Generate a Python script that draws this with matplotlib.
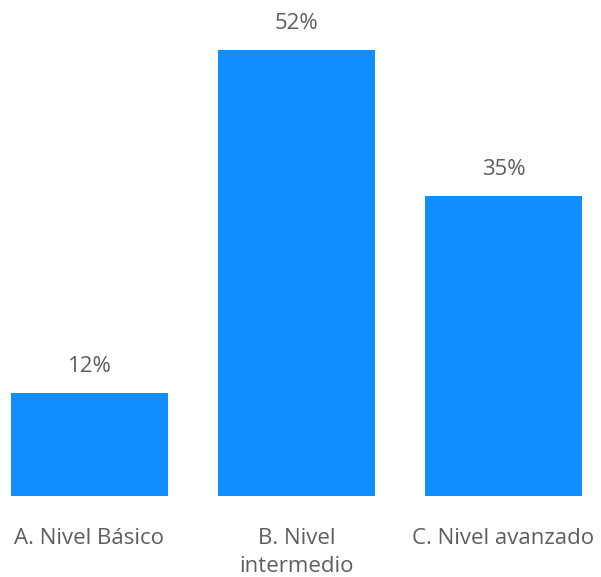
import matplotlib
matplotlib.use("Agg")
import matplotlib.pyplot as plt

categories = ["A. Nivel Básico", "B. Nivel\nintermedio", "C. Nivel avanzado"]
values = [12, 52, 35]
labels = ["12%", "52%", "35%"]

plt.rcParams['font.family'] = ['Open Sans', 'DejaVu Sans']
text_color = "#605E5C"

fig = plt.figure(figsize=(6.01, 5.77), dpi=100)
ax = fig.add_axes([0, 81.3 / 577, 1, 495.7 / 577])

x = list(range(len(values)))
ax.bar(x, values, width=0.758, color="#118DFF")

for i in range(len(values)):
    ax.annotate(labels[i], (x[i], values[i]), xytext=(0, 19), textcoords="offset points",
                ha="center", va="center", fontsize=16, color=text_color)

ax.set_xlim(-89.5 / 207, (601 - 89.5) / 207)
ax.set_ylim(0, 495.7 / 8.571)
ax.set_xticks(x)
ax.set_xticklabels(categories, fontsize=16, color=text_color, va="top", linespacing=1.4)
ax.tick_params(axis="x", length=0, pad=23.5)
ax.set_yticks([])
for s in ax.spines.values():
    s.set_visible(False)

fig.savefig("out.png", dpi=100)
